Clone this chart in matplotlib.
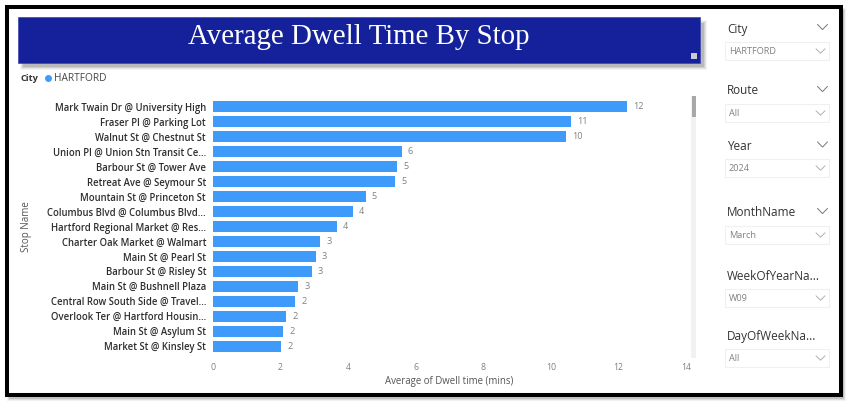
import matplotlib
matplotlib.use("Agg")
import matplotlib.pyplot as plt
from matplotlib.patches import Rectangle

W, H = 854, 408

stops = ["Mark Twain Dr @ University High", "Fraser Pl @ Parking Lot", "Walnut St @ Chestnut St",
         "Union Pl @ Union Stn Transit Ce...", "Barbour St @ Tower Ave", "Retreat Ave @ Seymour St",
         "Mountain St @ Princeton St", "Columbus Blvd @ Columbus Blvd...", "Hartford Regional Market @ Res...",
         "Charter Oak Market @ Walmart", "Main St @ Pearl St", "Barbour St @ Risley St",
         "Main St @ Bushnell Plaza", "Central Row South Side @ Travel...", "Overlook Ter @ Hartford Housin...",
         "Main St @ Asylum St", "Market St @ Kinsley St"]
dwell = [12.26, 10.6, 10.45, 5.58, 5.45, 5.39, 4.52, 4.13, 3.66, 3.17, 3.04, 2.92, 2.53, 2.42, 2.17, 2.07, 2.02]
value_labels = ["12", "11", "10", "6", "5", "5", "5", "4", "4", "3", "3", "3", "3", "2", "2", "2", "2"]
x_ticks = [0, 2, 4, 6, 8, 10, 12, 14]
slicer_titles = ["City", "Route", "Year", "MonthName", "WeekOfYearNa...", "DayOfWeekNa..."]
slicer_values = ["HARTFORD", "All", "2024", "March", "W09", "All"]
slicer_title_y = [29, 91, 146.5, 213, 276.5, 336.5]
slicer_box_y = [42, 104, 159, 226, 289, 349]

FONT = "Open Sans"
plt.rcParams["font.family"] = [FONT, "DejaVu Sans"]

fig = plt.figure(figsize=(W / 100, H / 100), dpi=100, facecolor="white")

# pixel-space overlay for the dashboard chrome
bg = fig.add_axes([0, 0, 1, 1], zorder=0)
bg.set_xlim(0, W)
bg.set_ylim(H, 0)
bg.axis("off")

# outer frame with its soft shadow
for i, a in enumerate([0.10, 0.18, 0.28]):
    bg.add_patch(Rectangle((7 + i, 8 + i), 839 - 2 * i, 393 - 2 * i, fc="#808080", ec="none", alpha=a))
bg.add_patch(Rectangle((7, 6.5), 834, 388.5, fc="white", ec="black", lw=2.9))

# banner with shadow
for i, a in enumerate([0.08, 0.12, 0.18, 0.25]):
    bg.add_patch(Rectangle((20 + i, 20 + i), 687 - 2 * i, 50 - 2 * i, fc="#777777", ec="none", alpha=a))
bg.add_patch(Rectangle((18, 17), 682, 45.5, fc="#14219A", ec="#3a47b0", lw=0.5))
bg.add_patch(Rectangle((691, 53), 6, 6, fc="#c8cbd8", ec="none"))
bg.text(359, 36.5, "Average Dwell Time By Stop", color="white", fontsize=20.8,
        family="Liberation Serif", ha="center", va="center")

# legend
bg.text(21, 78.5, "City", fontsize=6.6, fontweight="bold", color="#333333", va="center")
bg.plot([48.5], [78], "o", ms=5, color="#3E9BFA", mec="none")
bg.text(54.5, 78.5, "HARTFORD", fontsize=7.3, color="#444444", va="center")

# scrollbar
bg.add_patch(Rectangle((691, 96), 5, 262, fc="#f1f1f1", ec="none"))
bg.add_patch(Rectangle((692, 96), 4, 21, fc="#a8a8a8", ec="none"))


def chevron(cx, cy, w, h, color, lw):
    bg.plot([cx - w, cx, cx + w], [cy - h, cy + h, cy - h], color=color, lw=lw,
            solid_capstyle="round", solid_joinstyle="miter")


# slicers; the two truncated titles show no header chevron
for title, value, ty, by in zip(slicer_titles, slicer_values, slicer_title_y, slicer_box_y):
    bg.text(727, ty, title, fontsize=8.5, color="#333333", va="center")
    if not title.endswith("..."):
        chevron(822.5, ty - 2, 5, 2.6, "#777777", 0.7)
    bg.add_patch(Rectangle((725, by), 104, 18, fc="white", ec="#f0f0f0", lw=0.8))
    bg.text(729, by + 9.5, value, fontsize=6.6, color="#808080", va="center")
    chevron(820.5, by + 9, 4.5, 2.2, "#b0b0b0", 0.7)

# bar chart
x0, x1, top, bottom = 213, 686, 99.2, 353.8
ax = fig.add_axes([x0 / W, 1 - bottom / H, (x1 - x0) / W, (bottom - top) / H], zorder=1)
ax.patch.set_alpha(0)
ypos = list(range(len(stops)))
ax.barh(ypos, dwell, height=0.77, color="#3E9BFA", edgecolor="none")
ax.set_xlim(0, 14)
ax.set_ylim(len(stops) - 0.5, -0.5)
ax.set_yticks(ypos, stops)
ax.set_xticks(x_ticks)
for s in ax.spines.values():
    s.set_visible(False)
ax.tick_params(axis="y", length=0, pad=5, labelsize=6.85, labelcolor="#2e2e2e")
ax.tick_params(axis="x", length=0, pad=6.5, labelsize=6.3, labelcolor="#808080")
for lab in ax.get_yticklabels():
    lab.set_fontweight("semibold")
for y, v, t in zip(ypos, dwell, value_labels):
    ax.annotate(t, (v, y), xytext=(4.5, 0), textcoords="offset points", fontsize=6.6,
                color="#808080", va="center")
ax.set_xlabel("Average of Dwell time (mins)", fontsize=6.9, color="#555555", labelpad=3)
ax.set_ylabel("Stop Name", fontsize=7, color="#555555")
ax.yaxis.set_label_coords((32 - x0) / (x1 - x0), 1 - (227 - top) / (bottom - top))

fig.savefig("out.png", dpi=100)
